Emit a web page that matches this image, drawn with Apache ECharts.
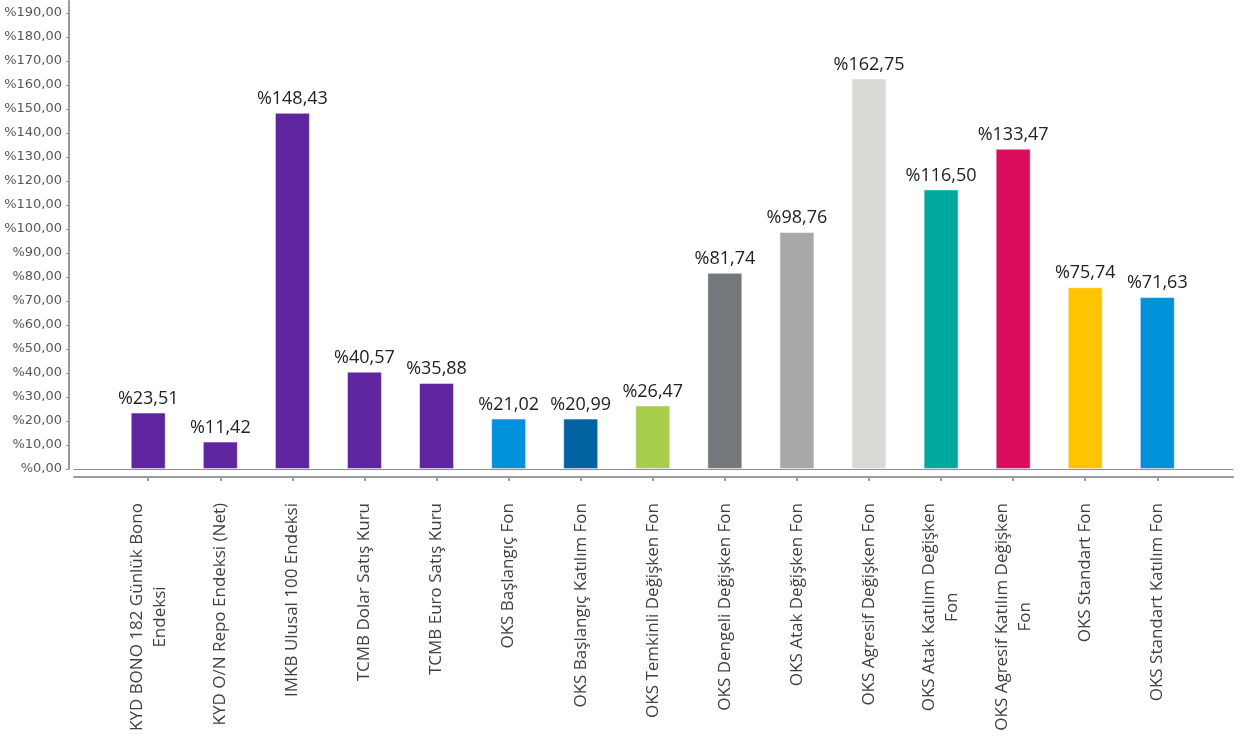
<!DOCTYPE html>
<html>
<head>
<meta charset="utf-8">
<script src="https://cdn.jsdelivr.net/npm/echarts@6.0.0/dist/echarts.min.js"></script>
<style>
html,body{margin:0;padding:0;background:#fff;}
#main{width:1253px;height:751px;}
</style>
</head>
<body>
<div id="main"></div>
<script>
const categories = [
  "KYD BONO 182 Günlük Bono\nEndeksi",
  "KYD O/N Repo Endeksi (Net)",
  "IMKB Ulusal 100 Endeksi",
  "TCMB Dolar Satış Kuru",
  "TCMB Euro Satış Kuru",
  "OKS Başlangıç Fon",
  "OKS Başlangıç Katılım Fon",
  "OKS Temkinli Değişken Fon",
  "OKS Dengeli Değişken Fon",
  "OKS Atak Değişken Fon",
  "OKS Agresif Değişken Fon",
  "OKS Atak Katılım Değişken\nFon",
  "OKS Agresif Katılım Değişken\nFon",
  "OKS Standart Fon",
  "OKS Standart Katılım Fon"
];
const values = [23.51, 11.42, 148.43, 40.57, 35.88, 21.02, 20.99, 26.47, 81.74, 98.76, 162.75, 116.50, 133.47, 75.74, 71.63];
const colors = ["#5f259f","#5f259f","#5f259f","#5f259f","#5f259f","#0091da","#0062a0","#a6cd4c","#75787b","#a7a8aa","#d9d9d6","#00a99d","#dc0d5c","#ffc300","#0091da"];
const yTicks = [0,10,20,30,40,50,60,70,80,90,100,110,120,130,140,150,160,170,180,190];

const idx = categories.map((_, i) => i);
const fmt = v => '%' + v.toFixed(2).replace('.', ',');

const chart = echarts.init(document.getElementById('main'));
chart.setOption({
  animation: false,
  grid: {left: 74, right: 20, top: 1, bottom: 282},
  xAxis: [{
    type: 'value', min: -1.03, max: 15.05, offset: 8,
    splitLine: {show: false},
    axisLine: {show: true, onZero: false, lineStyle: {color: '#9a9a9a', width: 2}},
    axisTick: {show: true, customValues: idx, length: 4, lineStyle: {color: '#9a9a9a', width: 2}},
    axisLabel: {
      customValues: idx, rotate: 90, margin: 26,
      formatter: v => categories[v].split('\n').map(s => '{c|' + s + '}').join('\n'),
      rich: {c: {align: 'center', fontFamily: 'Open Sans', fontSize: 17, color: '#404040', lineHeight: 23}},
      fontFamily: 'Open Sans', fontSize: 17, color: '#404040'
    }
  }, {
    type: 'value', min: -1.03, max: 15.05, position: 'bottom', offset: 0,
    splitLine: {show: false},
    axisLine: {show: true, onZero: false, lineStyle: {color: '#8c8c8c', width: 1}},
    axisTick: {show: false}, axisLabel: {show: false}
  }],
  yAxis: {
    type: 'value', min: 0, max: 195, interval: 10, offset: 5,
    splitLine: {show: false},
    axisLine: {show: true, onZero: false, lineStyle: {color: '#9a9a9a', width: 2}},
    axisTick: {show: true, customValues: yTicks, length: 3, lineStyle: {color: '#9a9a9a'}},
    axisLabel: {customValues: yTicks, formatter: v => fmt(v), fontFamily: 'DejaVu Sans', fontSize: 13, color: '#595959', margin: 7}
  },
  series: [{
    type: 'bar', xAxisIndex: 0, barWidth: 35,
    data: values.map((v, i) => ({value: [i, v], itemStyle: {color: colors[i], borderColor: 'rgba(255,255,255,0.5)', borderWidth: 1}})),
    label: {show: true, position: 'top', distance: 5, formatter: p => fmt(p.value[1]), fontFamily: 'Open Sans', fontSize: 18, color: '#222'}
  }]
});
</script>
</body>
</html>
